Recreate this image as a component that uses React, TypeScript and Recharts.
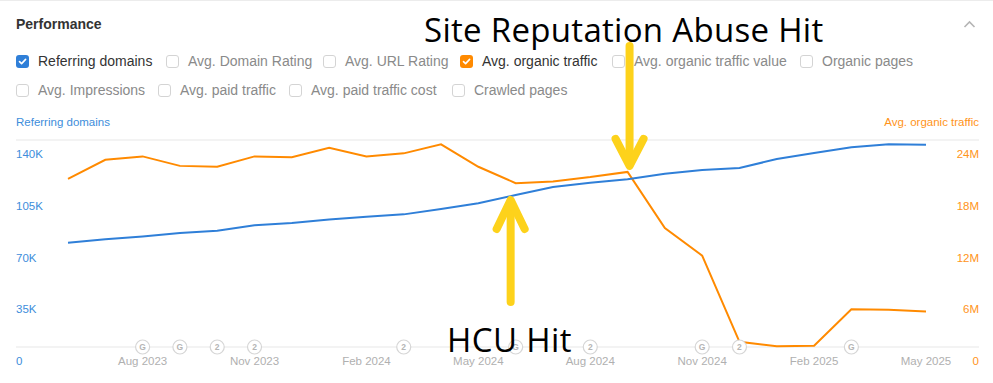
import React from "react";
import {
  LineChart,
  Line,
  XAxis,
  YAxis,
  CartesianGrid,
  ReferenceDot,
} from "recharts";

const BLUE = "#2f7fd8";
const ORANGE = "#ff8a00";
const YELLOW = "#fdd21b";

const MONTHS = [
  "Jun 2023", "Jul 2023", "Aug 2023", "Sep 2023", "Oct 2023", "Nov 2023",
  "Dec 2023", "Jan 2024", "Feb 2024", "Mar 2024", "Apr 2024", "May 2024",
  "Jun 2024", "Jul 2024", "Aug 2024", "Sep 2024", "Oct 2024", "Nov 2024",
  "Dec 2024", "Jan 2025", "Feb 2025", "Mar 2025", "Apr 2025", "May 2025",
];

// referring domains (left axis)
const REFERRING_DOMAINS = [
  70500, 72800, 74800, 77100, 78700, 82300, 83900, 86300, 88100, 89700, 93300, 97200,
  102800, 108200, 111100, 113400, 117200, 119700, 121100, 127100, 131200, 135100, 137100, 136800,
];

// avg. organic traffic (right axis)
const ORGANIC_TRAFFIC = [
  19500000, 21700000, 22100000, 21000000, 20900000, 22100000, 22000000, 23100000,
  22100000, 22450000, 23500000, 20900000, 19000000, 19200000, 19700000, 20300000,
  13800000, 10600000, 600000, 100000, 150000, 4370000, 4330000, 4130000,
];

const X_TICKS = ["Aug 2023", "Nov 2023", "Feb 2024", "May 2024", "Aug 2024", "Nov 2024", "Feb 2025", "May 2025"];
const LEFT_TICKS = [0, 35000, 70000, 105000, 140000];
const RIGHT_TICKS = [0, 6000000, 12000000, 18000000, 24000000];

const EVENT_MONTHS = ["Aug 2023", "Sep 2023", "Oct 2023", "Nov 2023", "Mar 2024", "Jun 2024", "Aug 2024", "Nov 2024", "Dec 2024", "Mar 2025"];
const EVENT_KINDS = ["G", "G", "2", "2", "2", "G", "2", "G", "2", "G"];

const ROW1 = [
  { label: "Referring domains", checked: BLUE, x: 16 },
  { label: "Avg. Domain Rating", checked: "", x: 166 },
  { label: "Avg. URL Rating", checked: "", x: 323 },
  { label: "Avg. organic traffic", checked: ORANGE, x: 460 },
  { label: "Avg. organic traffic value", checked: "", x: 612 },
  { label: "Organic pages", checked: "", x: 800 },
];
const ROW2 = [
  { label: "Avg. Impressions", checked: "", x: 16 },
  { label: "Avg. paid traffic", checked: "", x: 158 },
  { label: "Avg. paid traffic cost", checked: "", x: 289 },
  { label: "Crawled pages", checked: "", x: 452 },
];

const data = MONTHS.map((m, i) => ({
  month: m,
  domains: REFERRING_DOMAINS[i],
  traffic: ORGANIC_TRAFFIC[i],
}));

const UI_FONT = "'Liberation Sans', Arial, sans-serif";
const BIG_FONT = "'Open Sans', sans-serif";

function Checkbox({ label, checked, x, y }: { label: string; checked: string; x: number; y: number }) {
  return (
    <div style={{ position: "absolute", left: x, top: y, display: "flex", alignItems: "center", whiteSpace: "nowrap" }}>
      <div
        style={{
          width: 13,
          height: 13,
          borderRadius: 3,
          boxSizing: "border-box",
          border: checked ? "none" : "1px solid #d4d4d4",
          background: checked || "#fff",
          display: "flex",
          alignItems: "center",
          justifyContent: "center",
        }}
      >
        {checked && (
          <svg width="9" height="9" viewBox="0 0 9 9">
            <path d="M1.5 4.6 L3.6 6.6 L7.6 2.4" fill="none" stroke="#fff" strokeWidth={1.6} strokeLinecap="round" strokeLinejoin="round" />
          </svg>
        )}
      </div>
      <span style={{ marginLeft: 9, fontSize: 14, color: checked ? "#333" : "#8a8a8a" }}>{label}</span>
    </div>
  );
}

const fmtK = (v: number) => (v === 0 ? "0" : `${v / 1000}K`);
const fmtM = (v: number) => (v === 0 ? "0" : `${v / 1000000}M`);

// eslint-disable-next-line @typescript-eslint/no-explicit-any
const LeftTick = (p: any) => (
  <text x={16} y={p.y + 15} fill="#3d8ddb" fontSize={11.5} fontFamily={UI_FONT} dominantBaseline="middle">
    {fmtK(p.payload.value)}
  </text>
);

// eslint-disable-next-line @typescript-eslint/no-explicit-any
const RightTick = (p: any) => (
  <text x={979} y={p.y + 15} fill="#ff9419" fontSize={11.5} fontFamily={UI_FONT} textAnchor="end" dominantBaseline="middle">
    {fmtM(p.payload.value)}
  </text>
);

// eslint-disable-next-line @typescript-eslint/no-explicit-any
const MonthTick = (p: any) => (
  <text x={p.x} y={p.y} dy={7} fill="#b0b0b0" fontSize={11.5} fontFamily={UI_FONT} textAnchor="middle" dominantBaseline="middle">
    {p.payload.value}
  </text>
);

// eslint-disable-next-line @typescript-eslint/no-explicit-any
const eventShape = (kind: string) => (p: any) => (
  <g>
    <circle cx={p.cx} cy={p.cy} r={7} fill="#fff" stroke="#d6d6d6" strokeWidth={1.2} />
    <text x={p.cx} y={p.cy} fill="#b5b5b5" fontSize={8.5} fontWeight={700} fontFamily={UI_FONT} textAnchor="middle" dominantBaseline="central">
      {kind}
    </text>
  </g>
);

// arrow pointing down onto the point
// eslint-disable-next-line @typescript-eslint/no-explicit-any
const DownArrow = (p: any) => {
  const x = p.cx + 2;
  const tip = p.cy - 4;
  return (
    <g stroke={YELLOW} strokeWidth={8} strokeLinecap="round" strokeLinejoin="round" fill="none">
      <path d={`M${x} ${tip - 122} L${x} ${tip - 4}`} />
      <path d={`M${x - 14} ${tip - 29} L${x} ${tip - 2} L${x + 14} ${tip - 29}`} />
    </g>
  );
};

// arrow pointing up onto the point
// eslint-disable-next-line @typescript-eslint/no-explicit-any
const UpArrow = (p: any) => {
  const x = p.cx - 5;
  const tip = p.cy + 3;
  return (
    <g stroke={YELLOW} strokeWidth={8} strokeLinecap="round" strokeLinejoin="round" fill="none">
      <path d={`M${x} ${tip + 104} L${x} ${tip + 4}`} />
      <path d={`M${x - 14} ${tip + 31} L${x} ${tip + 2} L${x + 14} ${tip + 31}`} />
    </g>
  );
};

export default function App() {
  return (
    <div style={{ position: "absolute", left: 0, top: 0, width: 993, height: 383, background: "#fff", fontFamily: UI_FONT, overflow: "hidden" }}>
      <div style={{ position: "absolute", left: 0, top: 0, width: 993, height: 1, background: "#ececec" }} />
      <div style={{ position: "absolute", left: 16, top: 16, fontSize: 14, fontWeight: 700, color: "#333" }}>Performance</div>
      <svg style={{ position: "absolute", left: 963, top: 20 }} width="13" height="9" viewBox="0 0 13 9">
        <path d="M1.5 7 L6.5 2 L11.5 7" fill="none" stroke="#b5b5b5" strokeWidth={1.6} />
      </svg>

      {ROW1.map((c) => (
        <Checkbox key={c.label} {...c} y={53} />
      ))}
      {ROW2.map((c) => (
        <Checkbox key={c.label} {...c} y={82} />
      ))}

      <div style={{ position: "absolute", left: 16, top: 116, fontSize: 11.5, color: "#3d8ddb" }}>Referring domains</div>
      <div style={{ position: "absolute", right: 14, top: 116, fontSize: 11.5, color: "#ff9419" }}>Avg. organic traffic</div>

      <div style={{ position: "absolute", left: 0, top: 0 }}>
        <LineChart width={993} height={383} data={data} margin={{ top: 140, right: 13, bottom: 35, left: 15 }}>
          <CartesianGrid vertical={false} stroke="#efefef" strokeWidth={1.5} />
          <XAxis
            dataKey="month"
            ticks={X_TICKS}
            interval={0}
            axisLine={false}
            tickLine={false}
            height={1}
            padding={{ left: 52, right: 53 }}
            tick={MonthTick}
          />
          <YAxis yAxisId="left" domain={[0, 140000]} ticks={LEFT_TICKS} interval={0} width={1} axisLine={false} tickLine={false} tick={LeftTick} />
          <YAxis yAxisId="right" orientation="right" domain={[0, 24000000]} ticks={RIGHT_TICKS} interval={0} width={1} axisLine={false} tickLine={false} tick={RightTick} />

          {EVENT_MONTHS.map((m, i) => (
            <ReferenceDot key={m} x={m} y={0} yAxisId="left" r={7} shape={eventShape(EVENT_KINDS[i])} />
          ))}

          <Line yAxisId="right" dataKey="traffic" stroke={ORANGE} strokeWidth={2} dot={false} isAnimationActive={false} />
          <Line yAxisId="left" dataKey="domains" stroke={BLUE} strokeWidth={2} dot={false} isAnimationActive={false} />

          <ReferenceDot x="Sep 2024" y={ORGANIC_TRAFFIC[15]} yAxisId="right" r={1} shape={DownArrow} />
          <ReferenceDot x="Jun 2024" y={REFERRING_DOMAINS[12]} yAxisId="left" r={1} shape={UpArrow} />
        </LineChart>
      </div>

      <div style={{ position: "absolute", left: 424, top: 13, fontFamily: BIG_FONT, fontSize: 33, lineHeight: "33px", letterSpacing: 0.3, color: "#000", whiteSpace: "nowrap", pointerEvents: "none" }}>
        Site Reputation Abuse Hit
      </div>
      <div style={{ position: "absolute", left: 447, top: 323, fontFamily: BIG_FONT, fontSize: 33, lineHeight: "33px", letterSpacing: 0.4, color: "#000", whiteSpace: "nowrap", pointerEvents: "none" }}>
        HCU Hit
      </div>
    </div>
  );
}
